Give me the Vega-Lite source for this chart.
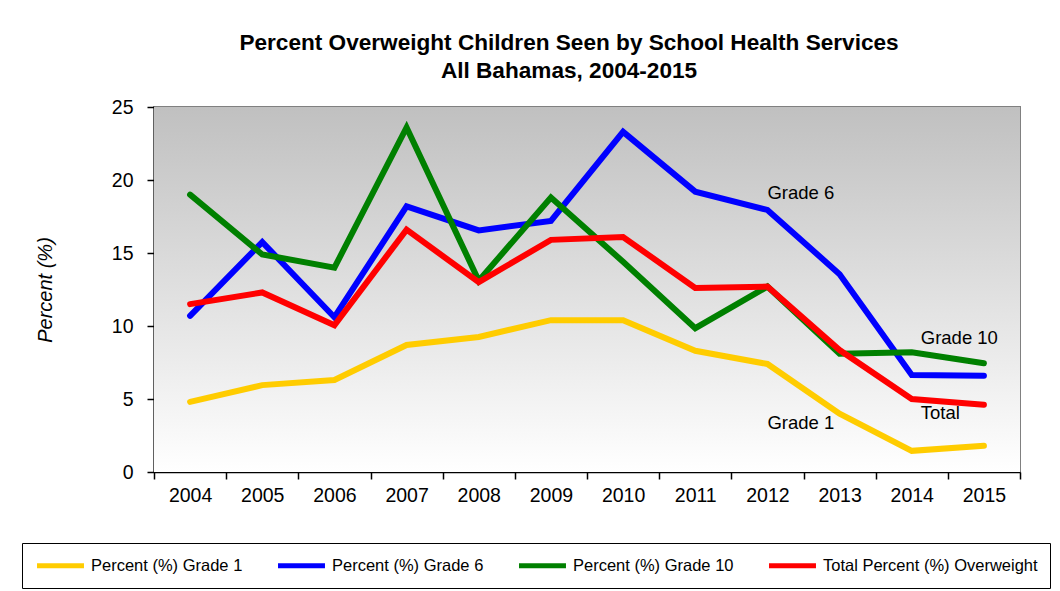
{
  "$schema": "https://vega.github.io/schema/vega-lite/v6.json",
  "width": 866,
  "height": 365,
  "autosize": {"type": "none"},
  "padding": {"left": 154, "top": 107, "right": 40, "bottom": 119},
  "background": "white",
  "title": {
    "text": ["Percent Overweight Children Seen by School Health Services", "All Bahamas, 2004-2015"],
    "font": "Liberation Sans",
    "fontSize": 22.6,
    "fontWeight": "bold",
    "color": "black",
    "anchor": "middle",
    "dx": -18,
    "lineHeight": 28,
    "offset": 14
  },
  "config": {
    "font": "Liberation Sans",
    "view": {"stroke": "#808080", "strokeWidth": 2},
    "axis": {
      "labelFont": "Liberation Sans",
      "labelFontSize": 19.5,
      "labelColor": "black",
      "domainColor": "black",
      "domainWidth": 1.5,
      "tickColor": "black",
      "tickWidth": 1.5,
      "tickSize": 7,
      "grid": false
    }
  },
  "datasets": {
    "series": [
      {"year": "2004", "series": "Percent (%) Grade 1", "value": 4.8},
      {"year": "2005", "series": "Percent (%) Grade 1", "value": 5.95},
      {"year": "2006", "series": "Percent (%) Grade 1", "value": 6.3},
      {"year": "2007", "series": "Percent (%) Grade 1", "value": 8.7},
      {"year": "2008", "series": "Percent (%) Grade 1", "value": 9.25},
      {"year": "2009", "series": "Percent (%) Grade 1", "value": 10.4},
      {"year": "2010", "series": "Percent (%) Grade 1", "value": 10.4},
      {"year": "2011", "series": "Percent (%) Grade 1", "value": 8.3},
      {"year": "2012", "series": "Percent (%) Grade 1", "value": 7.4},
      {"year": "2013", "series": "Percent (%) Grade 1", "value": 4.0},
      {"year": "2014", "series": "Percent (%) Grade 1", "value": 1.45},
      {"year": "2015", "series": "Percent (%) Grade 1", "value": 1.8},
      {"year": "2004", "series": "Percent (%) Grade 6", "value": 10.7},
      {"year": "2005", "series": "Percent (%) Grade 6", "value": 15.75},
      {"year": "2006", "series": "Percent (%) Grade 6", "value": 10.6},
      {"year": "2007", "series": "Percent (%) Grade 6", "value": 18.2},
      {"year": "2008", "series": "Percent (%) Grade 6", "value": 16.55},
      {"year": "2009", "series": "Percent (%) Grade 6", "value": 17.2},
      {"year": "2010", "series": "Percent (%) Grade 6", "value": 23.3},
      {"year": "2011", "series": "Percent (%) Grade 6", "value": 19.2},
      {"year": "2012", "series": "Percent (%) Grade 6", "value": 17.95},
      {"year": "2013", "series": "Percent (%) Grade 6", "value": 13.55},
      {"year": "2014", "series": "Percent (%) Grade 6", "value": 6.65},
      {"year": "2015", "series": "Percent (%) Grade 6", "value": 6.6},
      {"year": "2004", "series": "Percent (%) Grade 10", "value": 19.0},
      {"year": "2005", "series": "Percent (%) Grade 10", "value": 14.9},
      {"year": "2006", "series": "Percent (%) Grade 10", "value": 14.0},
      {"year": "2007", "series": "Percent (%) Grade 10", "value": 23.6},
      {"year": "2008", "series": "Percent (%) Grade 10", "value": 13.1},
      {"year": "2009", "series": "Percent (%) Grade 10", "value": 18.8},
      {"year": "2010", "series": "Percent (%) Grade 10", "value": 14.4},
      {"year": "2011", "series": "Percent (%) Grade 10", "value": 9.85},
      {"year": "2012", "series": "Percent (%) Grade 10", "value": 12.7},
      {"year": "2013", "series": "Percent (%) Grade 10", "value": 8.1},
      {"year": "2014", "series": "Percent (%) Grade 10", "value": 8.2},
      {"year": "2015", "series": "Percent (%) Grade 10", "value": 7.45},
      {"year": "2004", "series": "Total Percent (%) Overweight", "value": 11.5},
      {"year": "2005", "series": "Total Percent (%) Overweight", "value": 12.3},
      {"year": "2006", "series": "Total Percent (%) Overweight", "value": 10.05},
      {"year": "2007", "series": "Total Percent (%) Overweight", "value": 16.6},
      {"year": "2008", "series": "Total Percent (%) Overweight", "value": 13.0},
      {"year": "2009", "series": "Total Percent (%) Overweight", "value": 15.9},
      {"year": "2010", "series": "Total Percent (%) Overweight", "value": 16.1},
      {"year": "2011", "series": "Total Percent (%) Overweight", "value": 12.6},
      {"year": "2012", "series": "Total Percent (%) Overweight", "value": 12.7},
      {"year": "2013", "series": "Total Percent (%) Overweight", "value": 8.35},
      {"year": "2014", "series": "Total Percent (%) Overweight", "value": 5.0},
      {"year": "2015", "series": "Total Percent (%) Overweight", "value": 4.6}
    ],
    "labels2012": [
      {"year": "2012", "value": 19.1, "label": "Grade 6"},
      {"year": "2012", "value": 3.35, "label": "Grade 1"}
    ],
    "labels2014": [
      {"year": "2014", "value": 9.2, "label": "Grade 10"},
      {"year": "2014", "value": 4.05, "label": "Total"}
    ],
    "bg": [{"lo": 0, "hi": 25}]
  },
  "layer": [
    {
      "data": {"name": "bg"},
      "mark": {
        "type": "rect",
        "color": {
          "gradient": "linear",
          "x1": 0, "y1": 0, "x2": 0, "y2": 1,
          "stops": [
            {"offset": 0, "color": "#c0c0c0"},
            {"offset": 1, "color": "#ffffff"}
          ]
        }
      },
      "encoding": {
        "y": {"field": "hi", "type": "quantitative", "scale": {"domain": [0, 25]}},
        "y2": {"field": "lo"}
      }
    },
    {
      "data": {"name": "series"},
      "mark": {"type": "line", "strokeWidth": 6, "strokeCap": "round", "strokeJoin": "miter"},
      "encoding": {
        "x": {
          "field": "year",
          "type": "ordinal",
          "bandPosition": 0.5,
          "scale": {"type": "band", "paddingInner": 0, "paddingOuter": 0},
          "axis": {"title": null, "labelAngle": 0, "tickBand": "extent", "labelPadding": 7}
        },
        "y": {
          "field": "value",
          "type": "quantitative",
          "scale": {"domain": [0, 25], "nice": false},
          "axis": {
            "values": [0, 5, 10, 15, 20, 25],
            "title": "Percent (%)",
            "titleFont": "Liberation Sans",
            "titleFontSize": 20,
            "titleFontStyle": "italic",
            "titleFontWeight": "normal",
            "titleColor": "black",
            "titlePadding": 56,
            "labelPadding": 14
          }
        },
        "color": {
          "field": "series",
          "type": "nominal",
          "scale": {
            "domain": ["Percent (%) Grade 1", "Percent (%) Grade 6", "Percent (%) Grade 10", "Total Percent (%) Overweight"],
            "range": ["#ffcc00", "#0000ff", "#008000", "#ff0000"]
          },
          "legend": {
            "title": null,
            "orient": "none",
            "direction": "horizontal",
            "legendX": -132,
            "legendY": 436,
            "symbolType": "M-3,0H3",
            "symbolSize": 245,
            "symbolStrokeWidth": 5,
            "symbolOffset": 16,
            "labelFont": "Liberation Sans",
            "labelFontSize": 16.5,
            "labelColor": "black",
            "labelOffset": 20,
            "labelLimit": 400,
            "columnPadding": 25,
            "strokeColor": "black",
            "fillColor": "white",
            "padding": 12
          }
        },
        "order": {"field": "series"}
      }
    },
    {
      "data": {"name": "labels2012"},
      "mark": {"type": "text", "align": "left", "baseline": "middle", "fontSize": 18.5, "font": "Liberation Sans", "color": "black"},
      "encoding": {
        "x": {"field": "year", "type": "ordinal", "bandPosition": 0.5},
        "y": {"field": "value", "type": "quantitative"},
        "text": {"field": "label"}
      }
    },
    {
      "data": {"name": "labels2014"},
      "mark": {"type": "text", "align": "left", "baseline": "middle", "fontSize": 18.5, "font": "Liberation Sans", "color": "black", "dx": 9},
      "encoding": {
        "x": {"field": "year", "type": "ordinal", "bandPosition": 0.5},
        "y": {"field": "value", "type": "quantitative"},
        "text": {"field": "label"}
      }
    }
  ]
}
